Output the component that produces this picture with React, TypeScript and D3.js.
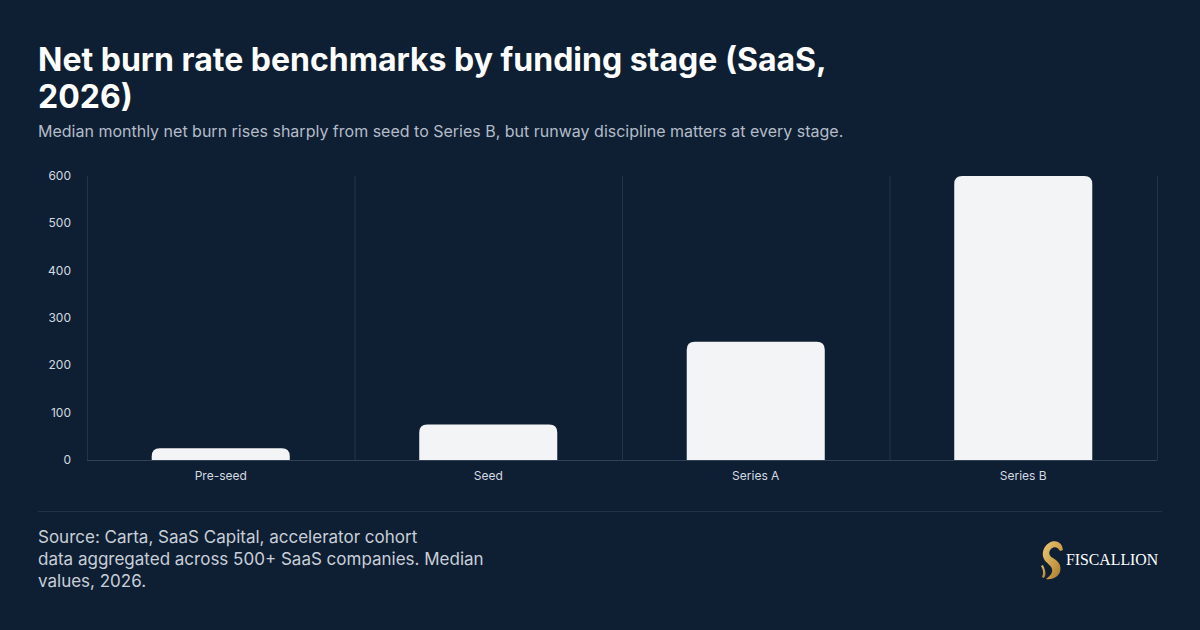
import React, { useEffect, useRef } from "react";
import * as d3 from "d3";

const stages = ["Pre-seed", "Seed", "Series A", "Series B"];
const burnValues = [25, 75, 250, 600];
const yTicks = [0, 100, 200, 300, 400, 500, 600];

const title = ["Net burn rate benchmarks by funding stage (SaaS,", "2026)"];
const subtitle =
  "Median monthly net burn rises sharply from seed to Series B, but runway discipline matters at every stage.";
const sourceLines = [
  "Source: Carta, SaaS Capital, accelerator cohort",
  "data aggregated across 500+ SaaS companies. Median",
  "values, 2026.",
];

const W = 1200;
const H = 630;
const BG = "#0e1f33";
const GRID = "#263447";
const FONT = "Inter, 'Noto Sans', sans-serif";

function topRounded(x: number, y: number, w: number, h: number, r: number) {
  const rr = Math.min(r, w / 2, h);
  return `M${x},${y + h}V${y + rr}Q${x},${y} ${x + rr},${y}H${x + w - rr}Q${x + w},${y} ${x + w},${y + rr}V${y + h}Z`;
}

export default function App() {
  const svgRef = useRef<SVGSVGElement>(null);

  useEffect(() => {
    if (!svgRef.current) return;
    const svg = d3.select(svgRef.current);
    svg.selectAll("*").remove();

    svg.append("rect").attr("width", W).attr("height", H).attr("fill", BG);

    // Title + subtitle
    svg
      .append("g")
      .selectAll("text")
      .data(title)
      .join("text")
      .attr("x", 38)
      .attr("y", (_, i) => 71 + i * 37)
      .attr("fill", "#ffffff")
      .attr("font-family", FONT)
      .attr("font-weight", 700)
      .attr("font-size", 32)
      .text((d) => d);

    svg
      .append("text")
      .attr("x", 38)
      .attr("y", 137)
      .attr("fill", "#b4bcc8")
      .attr("font-family", FONT)
      .attr("font-size", 16)
      .text(subtitle);

    // Chart
    const margin = { left: 87, right: 1157, top: 176, bottom: 460 };
    const x = d3
      .scaleBand()
      .domain(stages)
      .range([margin.left, margin.right])
      .paddingInner(0.484)
      .paddingOuter(0.242);
    const y = d3.scaleLinear().domain([0, 600]).range([margin.bottom, margin.top]);

    const step = x.step();
    const boundaries = d3.range(stages.length + 1).map((i) => margin.left + i * step);

    svg
      .append("g")
      .selectAll("line")
      .data(boundaries)
      .join("line")
      .attr("x1", (d) => d + 0.5)
      .attr("x2", (d) => d + 0.5)
      .attr("y1", margin.top)
      .attr("y2", margin.bottom)
      .attr("stroke", GRID)
      .attr("stroke-width", 1);

    svg
      .append("g")
      .selectAll("path")
      .data(stages)
      .join("path")
      .attr("d", (d, i) => {
        const top = y(burnValues[i]);
        return topRounded(x(d)!, top, x.bandwidth(), margin.bottom - top, 8);
      })
      .attr("fill", "#f3f4f6");

    // axis line
    svg
      .append("line")
      .attr("x1", margin.left)
      .attr("x2", margin.right)
      .attr("y1", margin.bottom + 0.5)
      .attr("y2", margin.bottom + 0.5)
      .attr("stroke", "#334155")
      .attr("stroke-width", 1);

    svg
      .append("g")
      .selectAll("text")
      .data(yTicks)
      .join("text")
      .attr("x", 71)
      .attr("y", (d) => y(d) + 4)
      .attr("text-anchor", "end")
      .attr("fill", "#d5dae1")
      .attr("font-family", FONT)
      .attr("font-size", 12)
      .text((d) => d);

    svg
      .append("g")
      .selectAll("text")
      .data(stages)
      .join("text")
      .attr("x", (d) => x(d)! + x.bandwidth() / 2)
      .attr("y", 480)
      .attr("text-anchor", "middle")
      .attr("fill", "#d5dae1")
      .attr("font-family", FONT)
      .attr("font-size", 12)
      .text((d) => d);

    // Footer
    svg
      .append("line")
      .attr("x1", 38)
      .attr("x2", 1162)
      .attr("y1", 511.5)
      .attr("y2", 511.5)
      .attr("stroke", "#223146")
      .attr("stroke-width", 1);

    svg
      .append("g")
      .selectAll("text")
      .data(sourceLines)
      .join("text")
      .attr("x", 38)
      .attr("y", (_, i) => 543 + i * 22)
      .attr("fill", "#c9cfd8")
      .attr("font-family", FONT)
      .attr("font-size", 17)
      .text((d) => d);

    // Logo
    const defs = svg.append("defs");
    const grad = defs
      .append("linearGradient")
      .attr("id", "gold")
      .attr("x1", "0")
      .attr("y1", "0")
      .attr("x2", "1")
      .attr("y2", "1");
    grad.append("stop").attr("offset", "0%").attr("stop-color", "#e9c97a");
    grad.append("stop").attr("offset", "60%").attr("stop-color", "#c89a45");
    grad.append("stop").attr("offset", "100%").attr("stop-color", "#9c7230");

    const logo = svg.append("g").attr("transform", "translate(1041,541)");
    logo
      .append("path")
      .attr(
        "d",
        "M8,2 C12,-1 19,0 21,5 L22,9 L19,10 C17,6 13,5 10,8 C7,11 8,15 12,17 C17,20 21,24 19,31 C17,36 11,39 5,38 C9,35 12,32 11,28 C10,24 5,22 3,18 C0,12 3,5 8,2 Z"
      )
      .attr("fill", "url(#gold)");
    logo
      .append("path")
      .attr("d", "M2,24 C4,29 6,33 3,37 L1,36 C3,32 2,28 0,25 Z")
      .attr("fill", "url(#gold)");
    logo
      .append("path")
      .attr("d", "M6,26 C9,30 9,34 6,37 L4,36 C7,33 7,30 5,27 Z")
      .attr("fill", BG)
      .attr("opacity", 0.6);

    svg
      .append("text")
      .attr("x", 1066)
      .attr("y", 565)
      .attr("fill", "#ffffff")
      .attr("font-family", "'Liberation Serif', 'DejaVu Serif', serif")
      .attr("font-size", 15.8)
      .text("FISCALLION");
  }, []);

  return (
    <div style={{ position: "absolute", left: 0, top: 0, width: W, height: H }}>
      <svg ref={svgRef} width={W} height={H} style={{ display: "block" }} />
    </div>
  );
}
